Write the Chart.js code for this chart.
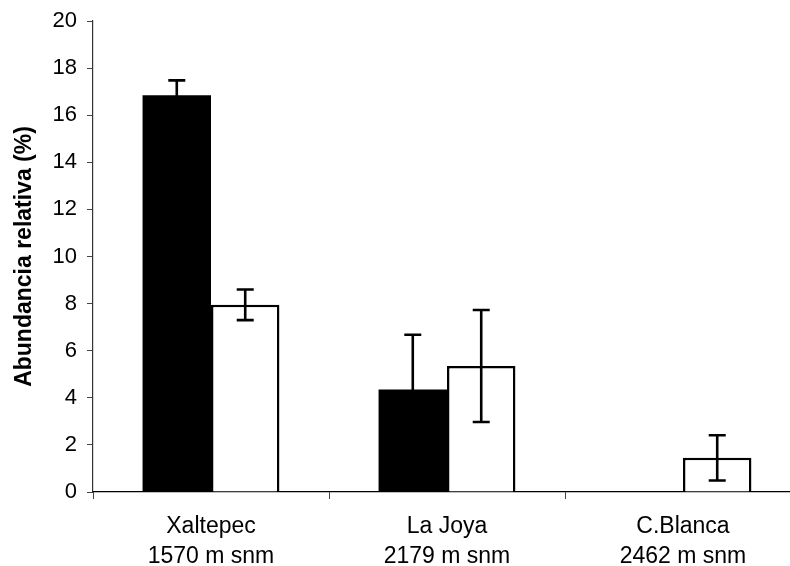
<!DOCTYPE html>
<html>
<head>
<meta charset="utf-8">
<script src="https://cdn.jsdelivr.net/npm/chart.js@4/dist/chart.umd.min.js"></script>
<style>
    html, body { margin: 0; padding: 0; background: #fff; overflow: hidden; }
    #wrap { width: 810px; height: 566px; }
</style>
</head>
<body>
<div id="wrap"><canvas id="myChart"></canvas></div>
<script>
// sites and altitude
var sites = [['Xaltepec', '1570 m snm'], ['La Joya', '2179 m snm'], ['C.Blanca', '2462 m snm']];

// relative abundance (%) for the two groups, with their error
var blackValues = [16.85, 4.35, 0];
var blackErrors = [0.63, 2.33, null];
var whiteValues = [7.95, 5.35, 1.45];
var whiteErrors = [0.65, 2.38, 0.96];

var yTicks = { min: 0, max: 20, step: 2 };

const fontFamily = "'Liberation Sans', Arial, sans-serif";

// draws the error whiskers on top of each bar
const errorBars = {
    id: 'errorBars',
    afterDatasetsDraw(chart) {
        const c = chart.ctx;
        const yScale = chart.scales.y;
        const errs = [blackErrors, whiteErrors];
        c.save();
        c.strokeStyle = '#000';
        c.lineWidth = 2.6;
        chart.data.datasets.forEach(function (ds, i) {
            const meta = chart.getDatasetMeta(i);
            meta.data.forEach(function (bar, j) {
                const e = errs[i][j];
                if (e == null) return;
                const v = ds.data[j];
                const x = bar.x;
                const yTop = yScale.getPixelForValue(v + e);
                const yBot = yScale.getPixelForValue(v - e);
                c.beginPath();
                c.moveTo(x, yTop);
                c.lineTo(x, yBot);
                c.moveTo(x - 8.5, yTop);
                c.lineTo(x + 8.5, yTop);
                c.moveTo(x - 8.5, yBot);
                c.lineTo(x + 8.5, yBot);
                c.stroke();
            });
        });
        c.restore();
    }
};

const ctx = document.getElementById('myChart');
var myChart = new Chart(ctx, {
    type: 'bar',
    data: {
        labels: sites,
        datasets: [{
            data: blackValues,
            backgroundColor: '#000',
            borderWidth: 0,
            barPercentage: 1,
            categoryPercentage: 0.58
        }, {
            data: whiteValues,
            backgroundColor: '#fff',
            borderColor: '#000',
            borderWidth: 2.5,
            barPercentage: 1,
            categoryPercentage: 0.58
        }]
    },
    options: {
        responsive: true,
        maintainAspectRatio: false,
        animation: false,
        layout: { padding: { left: 8, right: 9, top: 20, bottom: 0 } },
        plugins: {
            legend: { display: false },
            tooltip: { enabled: false }
        },
        scales: {
            x: {
                afterFit: function (scale) { scale.height = 74; },
                grid: {
                    offset: true,
                    drawOnChartArea: false,
                    drawTicks: true,
                    tickLength: 7,
                    color: '#444'
                },
                border: { display: true, color: '#000', width: 1.2 },
                ticks: {
                    color: '#000',
                    padding: 13,
                    maxRotation: 0,
                    autoSkip: false,
                    font: { family: fontFamily, size: 23, lineHeight: 1.3 }
                }
            },
            y: {
                min: yTicks.min,
                max: yTicks.max,
                afterFit: function (scale) { scale.width = 85; },
                grid: {
                    drawOnChartArea: false,
                    drawTicks: true,
                    tickLength: 6,
                    color: '#444'
                },
                border: { display: true, color: '#333', width: 1.2 },
                ticks: {
                    stepSize: yTicks.step,
                    color: '#000',
                    padding: 10,
                    font: { family: fontFamily, size: 22, lineHeight: 1 }
                },
                title: {
                    display: true,
                    text: 'Abundancia relativa (%)',
                    color: '#000',
                    padding: { top: 3, bottom: 4 },
                    font: { family: fontFamily, size: 23, weight: 'bold' }
                }
            }
        }
    },
    plugins: [errorBars]
});
</script>
</body>
</html>
